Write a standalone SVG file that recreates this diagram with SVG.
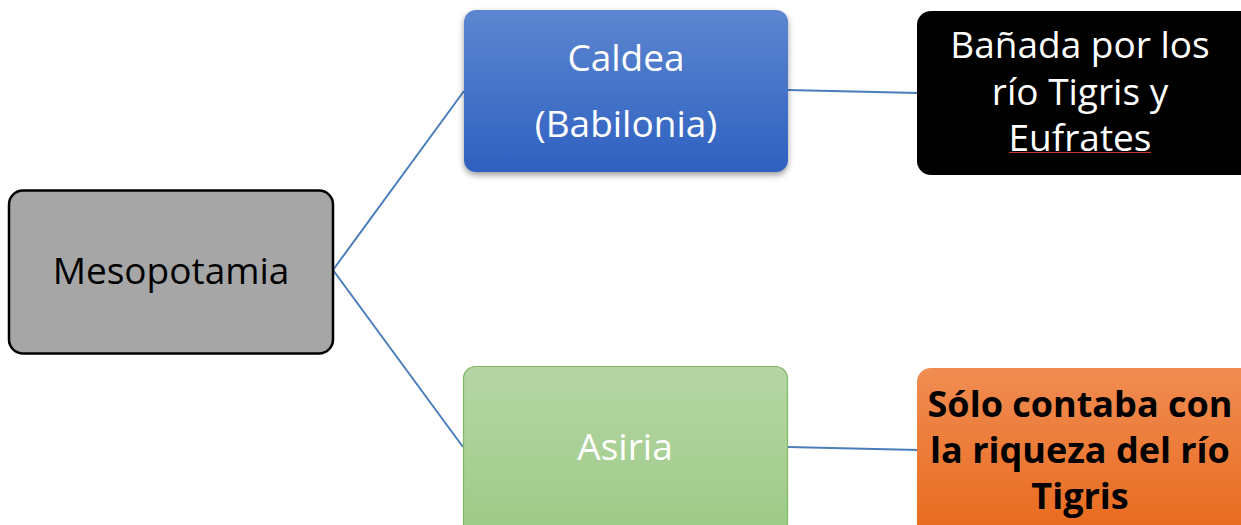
<svg xmlns="http://www.w3.org/2000/svg" width="1241" height="525" viewBox="0 0 1241 525">
<style>
text{font-family:"Open Sans","Liberation Sans",sans-serif;text-anchor:middle}
.conn{stroke:#4a7ebb;stroke-width:2;fill:none}
.w{fill:#fff;font-size:37px}
.b{fill:#000;font-size:37px}
.bb{fill:#000;font-size:36px;font-weight:bold}
</style>
<defs>
<linearGradient id="gBlue" x1="0" y1="0" x2="0" y2="1"><stop offset="0" stop-color="#5d86d0"/><stop offset="1" stop-color="#2e61c0"/></linearGradient>
<linearGradient id="gGreen" x1="0" y1="0" x2="0" y2="1"><stop offset="0" stop-color="#b6d6a5"/><stop offset="1" stop-color="#9cca85"/></linearGradient>
<linearGradient id="gOrange" x1="0" y1="0" x2="0" y2="1"><stop offset="0" stop-color="#f08c52"/><stop offset="1" stop-color="#e8691b"/></linearGradient>
<filter id="sh" x="-10%" y="-10%" width="120%" height="130%"><feGaussianBlur in="SourceAlpha" stdDeviation="3"/><feOffset dy="3"/><feComponentTransfer><feFuncA type="linear" slope="0.4"/></feComponentTransfer><feMerge><feMergeNode/><feMergeNode in="SourceGraphic"/></feMerge></filter>
</defs>
<g id="connectors">
<line class="conn" x1="333" y1="270" x2="464" y2="91"/>
<line class="conn" x1="333" y1="270" x2="463" y2="447"/>
<line class="conn" x1="788" y1="90" x2="918" y2="93"/>
<line class="conn" x1="788" y1="447" x2="918" y2="450"/>
</g>
<g id="mesopotamia">
<rect x="9" y="190.5" width="324" height="163" rx="14" fill="#a6a6a6" stroke="#000" stroke-width="2.5"/>
<text class="b" x="171" y="284">Mesopotamia</text>
</g>
<g id="caldea">
<rect x="464" y="10" width="324" height="162" rx="12" fill="url(#gBlue)" filter="url(#sh)"/>
<text class="w" x="626" y="71">Caldea</text>
<text class="w" x="626" y="137">(Babilonia)</text>
</g>
<g id="banada">
<rect x="917" y="11" width="340" height="164" rx="14" fill="#000"/>
<text class="w" x="1080" y="58">Bañada por los</text>
<text class="w" x="1080" y="105">río Tigris y</text>
<text class="w" x="1080" y="151">Eufrates</text>
<line x1="1009" y1="152.5" x2="1151" y2="152.5" stroke="#c0392b" stroke-width="1.2"/>
</g>
<g id="asiria">
<rect x="463.5" y="366.5" width="324" height="175" rx="12" fill="url(#gGreen)" stroke="#80b762" stroke-width="1.2"/>
<text class="w" x="625" y="460">Asiria</text>
</g>
<g id="solo">
<rect x="917" y="368" width="340" height="175" rx="14" fill="url(#gOrange)"/>
<text class="bb" x="1080" y="417">Sólo contaba con</text>
<text class="bb" x="1080" y="463">la riqueza del río</text>
<text class="bb" x="1080" y="509">Tigris</text>
</g>
</svg>
